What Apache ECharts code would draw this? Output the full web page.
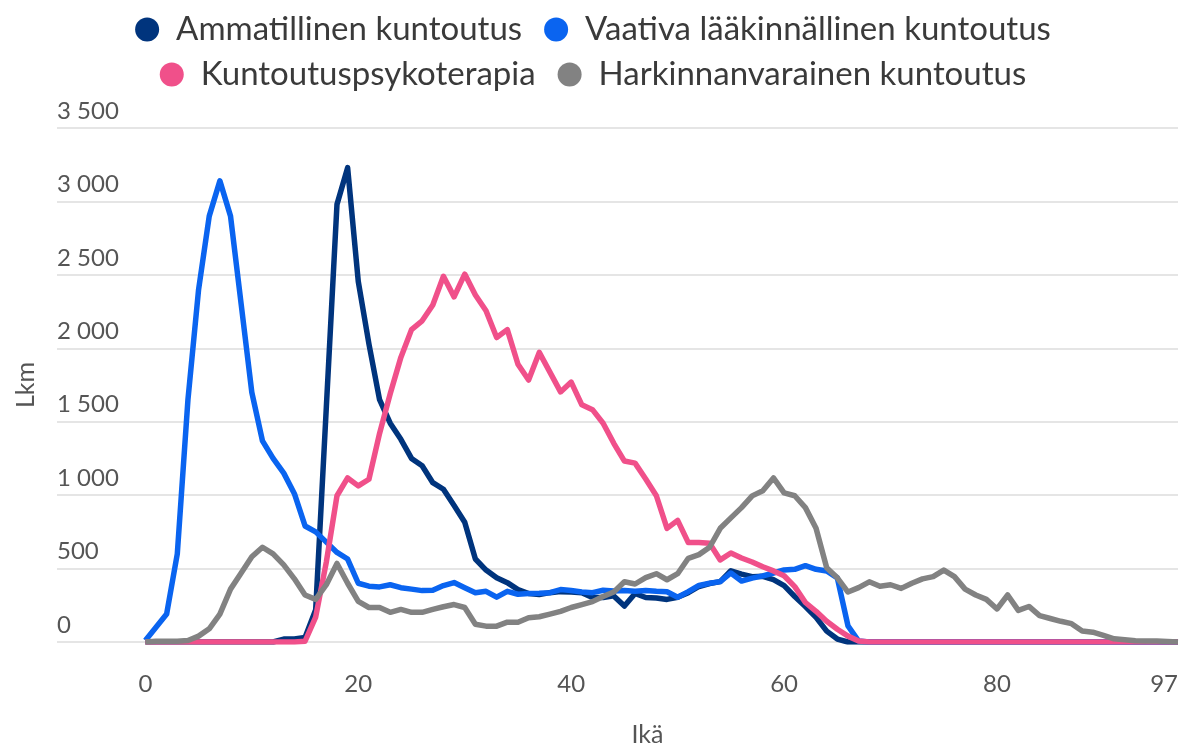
<!DOCTYPE html>
<html>
<head>
<meta charset="utf-8">
<script src="https://cdn.jsdelivr.net/npm/echarts@6/dist/echarts.min.js"></script>
<style>
  html, body { margin: 0; padding: 0; background: #fff; }
  #chart { width: 1186px; height: 752px; }
</style>
</head>
<body>
<div id="chart"></div>
<script>
// Age categories (Ikä)
const ages = [0,1,2,3,4,5,6,7,8,9,10,11,12,13,14,15,16,17,18,19,20,21,22,23,24,25,26,27,28,29,
  30,31,32,33,34,35,36,37,38,39,40,41,42,43,44,45,46,47,48,49,50,51,52,53,54,55,56,57,58,59,
  60,61,62,63,64,65,66,67,68,69,70,71,72,73,74,75,76,77,78,79,80,81,82,83,84,85,86,87,88,89,
  90,91,92,93,94,95,96,97];

const xTickLabels = [0, 20, 40, 60, 80, 97];

const seriesNames = ['Ammatillinen kuntoutus', 'Vaativa lääkinnällinen kuntoutus',
  'Kuntoutuspsykoterapia', 'Harkinnanvarainen kuntoutus'];

// Ammatillinen kuntoutus
const ammatillinen = [0,0,0,0,0,0,0,0,0,0,0,0,0,20,20,30,220,1600,2980,3230,
  2455,2030,1650,1490,1380,1250,1200,1085,1040,930,815,565,490,437,404,357,330,323,336,343,
  341,336,303,303,314,245,330,303,300,290,305,336,378,398,411,485,462,445,447,425,
  384,310,242,168,74,20,0,0,0,0,0,0,0,0,0,0,0,0,0,0,0,0,0,0,0,0,0,0,0,0,
  0,0,0,0,0,0,0,0];

// Vaativa lääkinnällinen kuntoutus
const vaativa = [10,100,190,600,1650,2400,2900,3140,2900,2300,1700,1370,1250,1150,1010,790,750,680,610,565,
  400,380,375,390,370,360,350,352,384,405,370,336,345,305,345,325,330,332,336,357,
  350,341,336,352,348,350,346,350,345,342,305,343,385,400,411,470,415,435,450,470,
  491,495,520,495,484,437,110,7,0,0,0,0,0,0,0,0,0,0,0,0,0,0,0,0,0,0,0,0,0,0,
  0,0,0,0,0,0,0,0];

// Kuntoutuspsykoterapia
const psykoterapia = [0,0,0,0,0,0,0,0,0,0,0,0,0,0,0,5,170,545,996,1117,
  1063,1108,1420,1690,1938,2127,2187,2295,2490,2350,2505,2363,2255,2073,2127,1891,1784,1972,1838,1703,
  1770,1615,1582,1490,1353,1232,1218,1110,996,774,828,677,677,673,559,606,572,545,512,484,
  451,377,269,209,141,87,40,7,0,0,0,0,0,0,0,0,0,0,0,0,0,0,0,0,0,0,0,0,0,0,
  0,0,0,0,0,0,0,0];

// Harkinnanvarainen kuntoutus
const harkinnanvarainen = [0,5,5,5,10,40,90,190,360,470,580,645,600,525,430,320,290,390,535,400,
  276,235,235,202,222,202,202,222,240,255,235,121,108,108,135,135,165,172,190,209,
  235,255,275,310,340,410,395,438,465,424,465,570,595,645,774,845,915,995,1030,1117,
  1016,996,915,775,505,437,340,370,410,380,390,365,400,430,445,490,445,360,320,290,
  225,320,215,242,180,160,141,125,75,67,45,22,15,8,7,6,3,0];

const colors = ['#00347d', '#0a64f0', '#f0508a', '#828282'];
const valueSets = [ammatillinen, vaativa, psykoterapia, harkinnanvarainen];

function pairs(vals) { return ages.map((a, i) => [a, vals[i]]); }
function fmt(v) { return String(v).replace(/\B(?=(\d{3})+(?!\d))/g, ' '); }

const chart = echarts.init(document.getElementById('chart'), null, { renderer: 'canvas' });
const font = 'Lato';
const legendText = { fontSize: 33, fontFamily: font, color: '#3a3a3a', padding: [0, 0, 0, 12] };

chart.setOption({
  animation: false,
  backgroundColor: '#fff',
  textStyle: { fontFamily: font },
  color: colors,
  legend: [
    { data: seriesNames.slice(0, 2), top: 8, left: 'center', icon: 'circle', itemWidth: 24, itemHeight: 24,
      itemGap: 22, textStyle: legendText, selectedMode: false },
    { data: seriesNames.slice(2, 4), top: 53, left: 'center', icon: 'circle', itemWidth: 24, itemHeight: 24,
      itemGap: 22, textStyle: legendText, selectedMode: false }
  ],
  grid: { left: 57, right: 8, top: 128, bottom: 104, containLabel: false },
  xAxis: {
    type: 'value', min: -8.3, max: 97,
    name: 'Ikä', nameLocation: 'middle', nameGap: 80,
    nameTextStyle: { fontSize: 25, color: '#555', fontFamily: font, padding: [0, 0, 0, 60] },
    axisLine: { show: false }, axisTick: { show: false }, splitLine: { show: false },
    axisLabel: { customValues: xTickLabels, fontSize: 24, color: '#555', fontFamily: font, margin: 30,
      alignMaxLabel: 'right' }
  },
  yAxis: {
    type: 'value', min: 0, max: 3500, interval: 500,
    name: 'Lkm', nameLocation: 'middle', nameGap: 19, nameRotate: 90,
    nameTextStyle: { fontSize: 25, color: '#555', fontFamily: font },
    axisLine: { show: false }, axisTick: { show: false },
    splitLine: { lineStyle: { color: '#dcdcdc', width: 1.5 } },
    axisLabel: { inside: true, margin: 0, align: 'left', verticalAlign: 'bottom', padding: [0, 0, 5, 0],
      fontSize: 24, color: '#555', fontFamily: font, formatter: v => fmt(v) }
  },
  series: valueSets.map((vals, i) => ({
    name: seriesNames[i], type: 'line', data: pairs(vals), showSymbol: false, symbol: 'circle',
    lineStyle: { width: 5.5, color: colors[i], join: 'round' }, itemStyle: { color: colors[i] },
    emphasis: { disabled: true }, z: 2 + i
  }))
});
</script>
</body>
</html>
